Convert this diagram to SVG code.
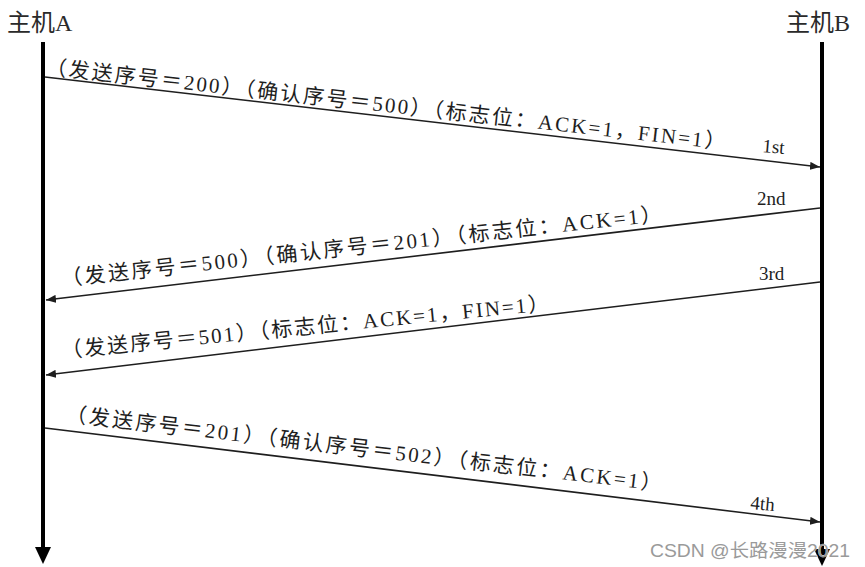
<svg xmlns="http://www.w3.org/2000/svg" width="865" height="567" viewBox="0 0 865 567">
  <style>
    .host { font-family: "Liberation Serif", "Noto Sans CJK SC", serif; font-size: 24px; fill: #2a2a2a; }
    .life { stroke: #000; stroke-width: 4; fill: none; }
    .head { fill: #000; }
    .msg { stroke: #1e1e1e; stroke-width: 1.6; fill: none; marker-end: url(#arr); }
    .lbl { font-family: "Liberation Serif", "Noto Sans CJK SC", serif; font-size: 21px; fill: #1e1e1e; }
    .ord { font-family: "Liberation Serif", serif; font-size: 19px; fill: #1e1e1e; }
    .wm { font-family: "Liberation Sans", "Noto Sans CJK SC", sans-serif; font-size: 18px; fill: #9a9a9a; stroke: #ffffff; stroke-width: 0.6; paint-order: stroke; }
  </style>
  <defs>
    <marker id="arr" viewBox="0 0 10 8" refX="10" refY="4" markerWidth="10" markerHeight="8" markerUnits="userSpaceOnUse" orient="auto">
      <path d="M0,0 L10,4 L0,8 Z" fill="#1e1e1e"/>
    </marker>
  </defs>
  <rect width="865" height="567" fill="#ffffff"/>

  <g id="hostA">
    <text class="host" x="7" y="31">主机A</text>
    <line class="life" x1="43" y1="42" x2="43" y2="549"/>
    <polygon class="head" points="35,547 51,547 43,564"/>
  </g>

  <g id="hostB">
    <text class="host" x="786" y="31">主机B</text>
    <line class="life" x1="822" y1="42" x2="822" y2="551"/>
    <polygon class="head" points="814,549 830,549 822,566"/>
  </g>

  <g id="connectors">
    <line class="msg" x1="45" y1="77" x2="820" y2="167"/>
    <line class="msg" x1="820" y1="208" x2="46" y2="300"/>
    <line class="msg" x1="820" y1="282" x2="46" y2="375"/>
    <line class="msg" x1="45" y1="428" x2="820" y2="522"/>
  </g>

  <g id="labels">
    <text class="lbl" transform="translate(45,74) rotate(6.33)" textLength="684" lengthAdjust="spacing">（发送序号＝200）（确认序号＝500）（标志位：ACK=1，FIN=1）</text>
    <text class="lbl" transform="translate(62,286) rotate(-6.18)" textLength="604" lengthAdjust="spacing">（发送序号＝500）（确认序号＝201）（标志位：ACK=1）</text>
    <text class="lbl" transform="translate(62,358) rotate(-5.6)" textLength="490" lengthAdjust="spacing">（发送序号＝501）（标志位：ACK=1，FIN=1）</text>
    <text class="lbl" transform="translate(65,421) rotate(6.69)" textLength="600" lengthAdjust="spacing">（发送序号＝201）（确认序号＝502）（标志位：ACK=1）</text>
    <text class="ord" transform="translate(762,152) rotate(5)">1st</text>
    <text class="ord" x="757" y="205">2nd</text>
    <text class="ord" x="759" y="280">3rd</text>
    <text class="ord" transform="translate(750,509) rotate(5)">4th</text>
  </g>

  <text class="wm" x="650" y="557" textLength="200" lengthAdjust="spacingAndGlyphs">CSDN @长路漫漫2021</text>
</svg>
